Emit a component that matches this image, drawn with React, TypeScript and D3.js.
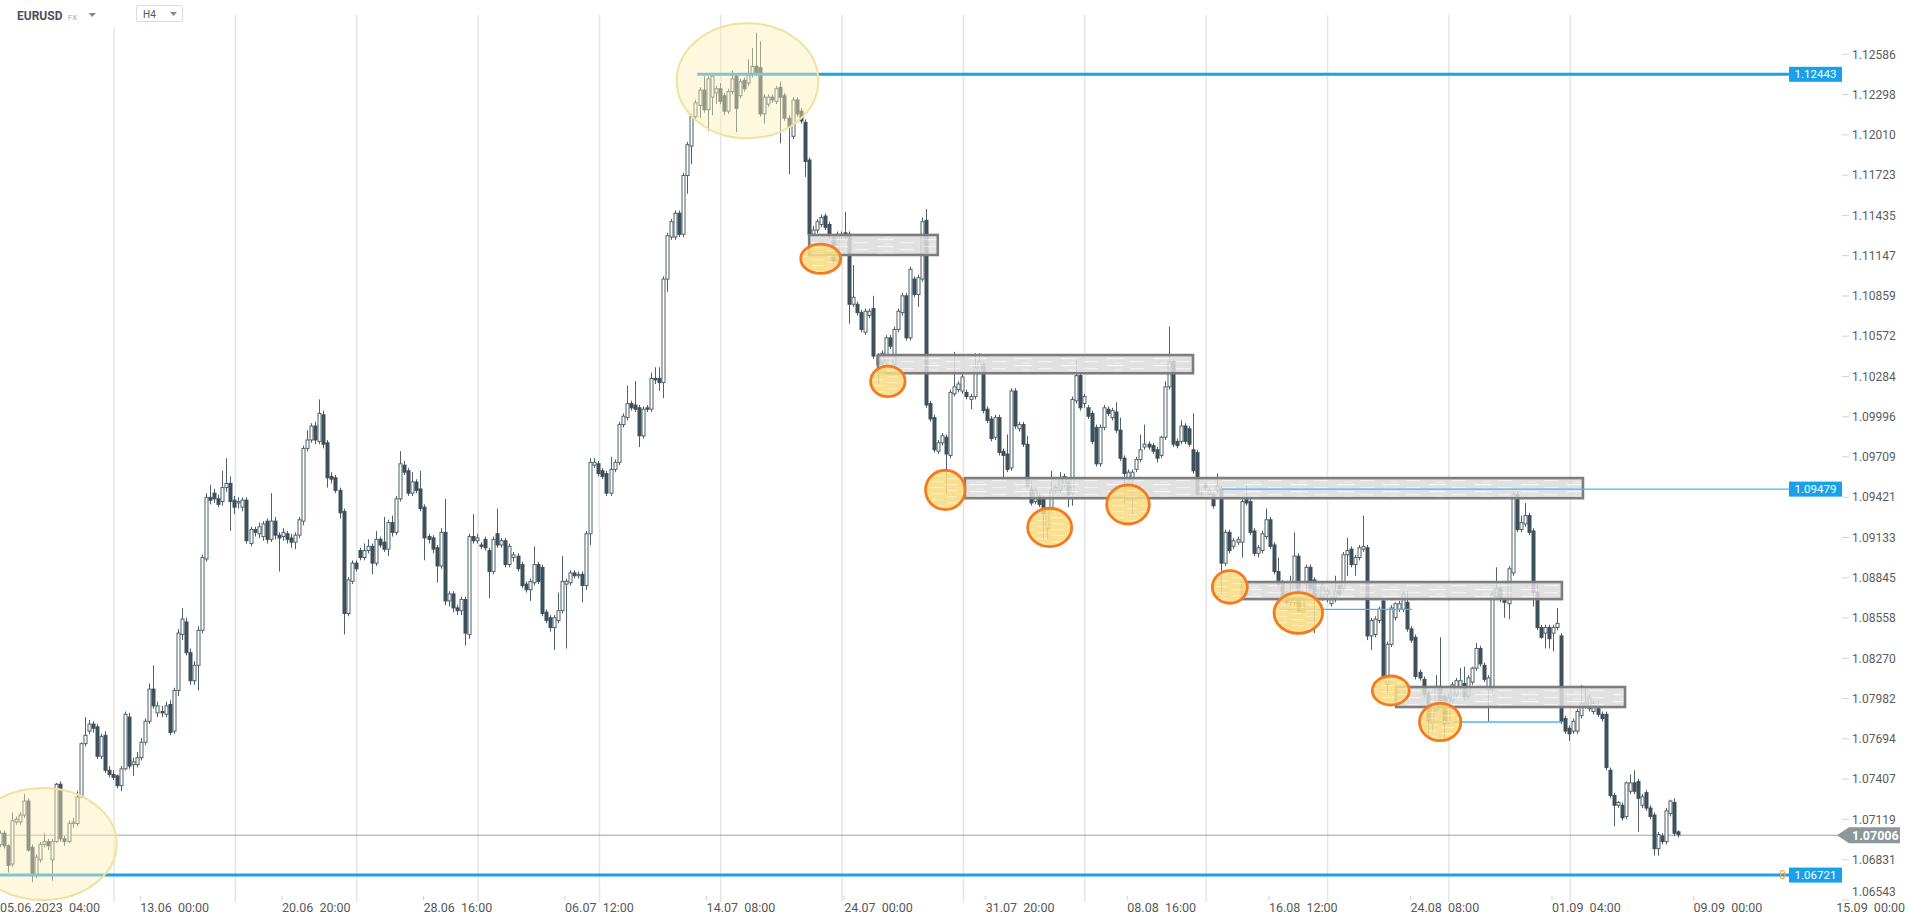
import React, { useEffect } from 'react';
import * as d3 from 'd3';

type Bar = [number, number, number, number]; // open, high, low, close

// H4 candles, one array per trading week (Mon 00:00 .. Fri 20:00)
const wk0605: Bar[] = [
  [1.0704,1.0706,1.0696,1.0699],[1.0694,1.0704,1.0692,1.0702],[1.0702,1.0704,1.0691,1.0693],[1.0693,1.0694,1.0674,1.0679],
  [1.0680,1.0717,1.0678,1.0711],[1.0710,1.0714,1.0708,1.0712],[1.0710,1.0717,1.0708,1.0715],[1.0715,1.0730,1.0713,1.0725],
  [1.0725,1.0727,1.0689,1.0690],[1.0692,1.0694,1.0667,1.0672],[1.0672,1.0687,1.0670,1.0685],[1.0683,1.0696,1.0681,1.0694],
  [1.0694,1.0702,1.0692,1.0696],[1.0696,1.0698,1.0690,1.0693],[1.0683,1.0698,1.0668,1.0696],[1.0696,1.0738,1.0695,1.0737],
  [1.0737,1.0739,1.0696,1.0698],[1.0698,1.0700,1.0693,1.0696],[1.0696,1.0711,1.0695,1.0709],[1.0709,1.0713,1.0706,1.0710],
  [1.0709,1.0732,1.0707,1.0728],[1.0728,1.0767,1.0727,1.0766],[1.0766,1.0785,1.0764,1.0772],[1.0775,1.0783,1.0773,1.0780],
  [1.0780,1.0782,1.0774,1.0777],[1.0778,1.0780,1.0755,1.0757],[1.0757,1.0773,1.0755,1.0771],[1.0772,1.0775,1.0745,1.0747],
  [1.0747,1.0750,1.0742,1.0744],[1.0744,1.0747,1.0740,1.0742],
];
const wk0612: Bar[] = [
  [1.0743,1.0744,1.0734,1.0736],[1.0736,1.0750,1.0732,1.0748],[1.0748,1.0789,1.0747,1.0787],[1.0785,1.0788,1.0748,1.0750],
  [1.0751,1.0756,1.0743,1.0753],[1.0751,1.0760,1.0749,1.0756],[1.0756,1.0770,1.0754,1.0767],[1.0767,1.0784,1.0765,1.0782],
  [1.0782,1.0809,1.0780,1.0805],[1.0805,1.0822,1.0791,1.0793],[1.0788,1.0796,1.0785,1.0793],[1.0789,1.0793,1.0785,1.0788],
  [1.0787,1.0796,1.0785,1.0793],[1.0794,1.0797,1.0772,1.0774],[1.0775,1.0806,1.0773,1.0804],[1.0804,1.0848,1.0800,1.0845],
  [1.0844,1.0863,1.0840,1.0855],[1.0853,1.0856,1.0829,1.0831],[1.0831,1.0834,1.0808,1.0811],[1.0811,1.0825,1.0808,1.0822],
  [1.0822,1.0850,1.0804,1.0847],[1.0847,1.0901,1.0845,1.0899],[1.0898,1.0945,1.0896,1.0942],[1.0942,1.0951,1.0937,1.0940],
  [1.0945,1.0948,1.0938,1.0941],[1.0941,1.0944,1.0935,1.0937],[1.0939,1.0961,1.0936,1.0949],[1.0949,1.0970,1.0946,1.0952],
  [1.0952,1.0957,1.0918,1.0939],[1.0940,1.0943,1.0930,1.0935],
];
const wk0619: Bar[] = [
  [1.0938,1.0942,1.0934,1.0939],[1.0935,1.0942,1.0932,1.0940],[1.0940,1.0942,1.0909,1.0911],[1.0909,1.0921,1.0907,1.0919],
  [1.0919,1.0921,1.0914,1.0917],[1.0916,1.0924,1.0913,1.0921],[1.0914,1.0925,1.0911,1.0923],[1.0925,1.0927,1.0909,1.0912],
  [1.0912,1.0945,1.0910,1.0925],[1.0925,1.0928,1.0912,1.0915],[1.0915,1.0917,1.0889,1.0913],[1.0914,1.0920,1.0911,1.0917],
  [1.0916,1.0918,1.0909,1.0912],[1.0913,1.0916,1.0906,1.0910],[1.0910,1.0917,1.0905,1.0915],[1.0915,1.0928,1.0913,1.0926],
  [1.0925,1.0979,1.0922,1.0977],[1.0977,1.0990,1.0975,1.0983],[1.0983,1.0995,1.0981,1.0993],[1.0993,1.0996,1.0980,1.0983],
  [1.0982,1.1012,1.0980,1.1002],[1.1001,1.1004,1.0977,1.0980],[1.0981,1.0983,1.0949,1.0956],[1.0957,1.0960,1.0952,1.0955],
  [1.0956,1.0958,1.0945,1.0947],[1.0947,1.0949,1.0927,1.0931],[1.0932,1.0934,1.0844,1.0859],[1.0859,1.0885,1.0857,1.0883],
  [1.0882,1.0897,1.0880,1.0895],[1.0895,1.0897,1.0889,1.0891],
];
const wk0626: Bar[] = [
  [1.0904,1.0906,1.0897,1.0899],[1.0899,1.0909,1.0897,1.0904],[1.0904,1.0912,1.0902,1.0907],[1.0907,1.0909,1.0887,1.0895],
  [1.0895,1.0918,1.0893,1.0912],[1.0912,1.0914,1.0906,1.0908],[1.0910,1.0928,1.0903,1.0905],[1.0905,1.0926,1.0900,1.0924],
  [1.0924,1.0929,1.0914,1.0917],[1.0917,1.0943,1.0915,1.0941],[1.0941,1.0975,1.0939,1.0966],[1.0965,1.0968,1.0958,1.0960],
  [1.0961,1.0963,1.0943,1.0945],[1.0945,1.0960,1.0943,1.0953],[1.0953,1.0955,1.0945,1.0947],[1.0948,1.0961,1.0932,1.0934],
  [1.0935,1.0937,1.0897,1.0913],[1.0914,1.0916,1.0909,1.0912],[1.0913,1.0915,1.0902,1.0905],[1.0906,1.0908,1.0881,1.0893],
  [1.0893,1.0920,1.0891,1.0917],[1.0917,1.0941,1.0865,1.0868],[1.0868,1.0875,1.0864,1.0873],[1.0873,1.0875,1.0860,1.0863],
  [1.0863,1.0865,1.0858,1.0861],[1.0861,1.0871,1.0858,1.0869],[1.0869,1.0871,1.0836,1.0845],[1.0844,1.0916,1.0841,1.0914],
  [1.0914,1.0930,1.0909,1.0911],[1.0911,1.0916,1.0909,1.0913],
];
const wk0703: Bar[] = [
  [1.0908,1.0910,1.0905,1.0907],[1.0912,1.0914,1.0904,1.0906],[1.0904,1.0906,1.0870,1.0889],[1.0889,1.0914,1.0887,1.0912],
  [1.0916,1.0934,1.0906,1.0908],[1.0908,1.0913,1.0906,1.0911],[1.0911,1.0913,1.0892,1.0894],[1.0894,1.0909,1.0892,1.0907],
  [1.0899,1.0903,1.0896,1.0901],[1.0900,1.0902,1.0889,1.0891],[1.0894,1.0896,1.0877,1.0879],[1.0880,1.0882,1.0874,1.0876],
  [1.0876,1.0884,1.0868,1.0882],[1.0881,1.0907,1.0879,1.0894],[1.0894,1.0896,1.0880,1.0882],[1.0892,1.0894,1.0857,1.0859],
  [1.0860,1.0862,1.0852,1.0854],[1.0856,1.0858,1.0846,1.0849],[1.0849,1.0858,1.0833,1.0856],[1.0854,1.0874,1.0852,1.0861],
  [1.0861,1.0900,1.0859,1.0882],[1.0880,1.0884,1.0834,1.0882],[1.0881,1.0890,1.0879,1.0888],[1.0888,1.0890,1.0884,1.0886],
  [1.0886,1.0889,1.0884,1.0887],[1.0887,1.0889,1.0867,1.0879],[1.0879,1.0918,1.0876,1.0916],[1.0916,1.0970,1.0908,1.0967],
  [1.0965,1.0970,1.0963,1.0967],[1.0966,1.0968,1.0957,1.0959],
];
const wk0710: Bar[] = [
  [1.0961,1.0963,1.0955,1.0957],[1.0959,1.0961,1.0943,1.0945],[1.0945,1.0971,1.0943,1.0962],[1.0962,1.0969,1.0960,1.0967],
  [1.0967,1.0996,1.0965,1.0994],[1.0994,1.1002,1.0992,1.1000],[1.0999,1.1022,1.0997,1.1009],[1.1009,1.1011,1.1004,1.1006],
  [1.1008,1.1025,1.1003,1.1005],[1.1006,1.1008,1.0978,1.0986],[1.0986,1.1007,1.0984,1.1005],[1.1006,1.1008,1.1003,1.1005],
  [1.1005,1.1031,1.1003,1.1027],[1.1027,1.1035,1.1023,1.1026],[1.1027,1.1035,1.1018,1.1024],[1.1024,1.1100,1.1013,1.1098],
  [1.1098,1.1131,1.1089,1.1129],[1.1128,1.1141,1.1126,1.1139],[1.1128,1.1147,1.1126,1.1145],[1.1145,1.1147,1.1128,1.1130],
  [1.1130,1.1174,1.1128,1.1172],[1.1172,1.1196,1.1159,1.1194],[1.1193,1.1216,1.1180,1.1214],[1.1214,1.1226,1.1212,1.1224],
  [1.1222,1.1235,1.1213,1.1233],[1.1233,1.1243,1.1217,1.1219],[1.1219,1.1243,1.1204,1.1241],[1.1228,1.1245,1.1215,1.1243],
  [1.1231,1.1236,1.1223,1.1234],[1.1234,1.1238,1.1223,1.1225],
];
const wk0717: Bar[] = [
  [1.1229,1.1231,1.1215,1.1218],[1.1218,1.1234,1.1216,1.1232],[1.1232,1.1247,1.1230,1.1241],[1.1243,1.1245,1.1203,1.1220],
  [1.1229,1.1241,1.1227,1.1239],[1.1240,1.1242,1.1232,1.1234],[1.1238,1.1255,1.1236,1.1244],[1.1244,1.1263,1.1242,1.1250],
  [1.1250,1.1274,1.1243,1.1245],[1.1249,1.1268,1.1214,1.1216],[1.1216,1.1230,1.1209,1.1228],[1.1223,1.1230,1.1221,1.1228],
  [1.1228,1.1230,1.1224,1.1226],[1.1225,1.1236,1.1223,1.1234],[1.1235,1.1239,1.1195,1.1228],[1.1229,1.1231,1.1211,1.1213],
  [1.1213,1.1215,1.1173,1.1207],[1.1200,1.1228,1.1198,1.1226],[1.1226,1.1228,1.1214,1.1216],[1.1218,1.1220,1.1209,1.1211],
  [1.1210,1.1212,1.1171,1.1182],[1.1183,1.1185,1.1128,1.1130],[1.1130,1.1136,1.1128,1.1133],[1.1133,1.1141,1.1131,1.1139],
  [1.1137,1.1144,1.1135,1.1142],[1.1143,1.1145,1.1133,1.1135],[1.1137,1.1139,1.1127,1.1129],[1.1128,1.1130,1.1109,1.1111],
  [1.1111,1.1132,1.1109,1.1130],[1.1128,1.1132,1.1126,1.1130],
];
const wk0724: Bar[] = [
  [1.1131,1.1146,1.1126,1.1128],[1.1130,1.1132,1.1066,1.1080],[1.1080,1.1108,1.1078,1.1085],[1.1080,1.1082,1.1072,1.1074],
  [1.1074,1.1076,1.1060,1.1062],[1.1060,1.1077,1.1058,1.1075],[1.1072,1.1077,1.1070,1.1075],[1.1077,1.1086,1.1041,1.1043],
  [1.1043,1.1045,1.1023,1.1037],[1.1038,1.1047,1.1036,1.1045],[1.1038,1.1058,1.1036,1.1056],[1.1056,1.1058,1.1048,1.1050],
  [1.1037,1.1064,1.1035,1.1062],[1.1062,1.1077,1.1060,1.1075],[1.1074,1.1088,1.1072,1.1086],[1.1086,1.1088,1.1054,1.1056],
  [1.1056,1.1107,1.1054,1.1105],[1.1098,1.1100,1.1085,1.1087],[1.1087,1.1101,1.1078,1.1099],[1.1098,1.1142,1.1096,1.1139],
  [1.1140,1.1148,1.1006,1.1008],[1.1009,1.1011,1.0996,1.0998],[1.0999,1.1001,1.0974,1.0976],[1.0975,1.0983,1.0973,1.0981],
  [1.0981,1.0988,1.0979,1.0986],[1.0985,1.0987,1.0944,1.0973],[1.0972,1.1019,1.0970,1.1017],[1.1016,1.1046,1.1014,1.1021],
  [1.1019,1.1025,1.1017,1.1023],[1.1018,1.1030,1.1016,1.1028],
];
const wk0731: Bar[] = [
  [1.1017,1.1019,1.1012,1.1014],[1.1012,1.1016,1.1005,1.1014],[1.1014,1.1045,1.1012,1.1035],[1.1033,1.1045,1.1031,1.1039],
  [1.1037,1.1039,1.1002,1.1004],[1.1005,1.1007,1.0995,1.0997],[1.0998,1.1000,1.0982,1.0984],[1.0985,1.1001,1.0983,1.0999],
  [1.0999,1.1001,1.0972,1.0974],[1.0975,1.0977,1.0954,1.0972],[1.0973,1.0987,1.0960,1.0962],[1.0963,1.1020,1.0961,1.1018],
  [1.1018,1.1020,1.0991,1.0993],[1.0991,1.0996,1.0989,1.0994],[1.0994,1.0996,1.0978,1.0980],[1.0980,1.0986,1.0948,1.0950],
  [1.0948,1.0954,1.0936,1.0938],[1.0939,1.0949,1.0937,1.0947],[1.0943,1.0945,1.0935,1.0937],[1.0941,1.0943,1.0912,1.0930],
  [1.0920,1.0935,1.0912,1.0933],[1.0933,1.0961,1.0931,1.0947],[1.0947,1.0951,1.0945,1.0949],[1.0947,1.0960,1.0945,1.0956],
  [1.0951,1.0959,1.0949,1.0957],[1.0953,1.0955,1.0935,1.0944],[1.0945,1.1014,1.0936,1.1012],[1.1011,1.1041,1.1009,1.1029],
  [1.1029,1.1031,1.1004,1.1006],[1.1009,1.1016,1.1006,1.1014],
];
const wk0807: Bar[] = [
  [1.1006,1.1008,1.0998,1.1000],[1.1002,1.1004,1.0980,1.0982],[1.0992,1.0994,1.0964,1.0966],[1.0966,1.0994,1.0964,1.0992],
  [1.0992,1.1008,1.0990,1.1006],[1.1005,1.1007,1.1000,1.1002],[1.0999,1.1006,1.0997,1.1004],[1.1003,1.1010,1.0988,1.0990],
  [1.0990,1.0999,1.0968,1.0970],[1.0970,1.0972,1.0938,1.0959],[1.0956,1.0962,1.0954,1.0960],[1.0954,1.0962,1.0930,1.0960],
  [1.0962,1.0971,1.0960,1.0969],[1.0969,1.0987,1.0967,1.0976],[1.0978,1.0994,1.0976,1.0980],[1.0980,1.0982,1.0976,1.0978],
  [1.0979,1.0981,1.0973,1.0975],[1.0976,1.0978,1.0967,1.0970],[1.0972,1.0986,1.0970,1.0985],[1.0985,1.1025,1.0983,1.1021],
  [1.1021,1.1064,1.1019,1.1039],[1.1039,1.1041,1.0978,1.0980],[1.0982,1.0984,1.0977,1.0979],[1.0982,1.0997,1.0980,1.0993],
  [1.0993,1.0995,1.0980,1.0982],[1.0991,1.0993,1.0978,1.0980],[1.0976,1.1002,1.0959,1.0961],[1.0974,1.0976,1.0942,1.0944],
  [1.0944,1.0947,1.0942,1.0945],[1.0951,1.0953,1.0947,1.0949],
];
const wk0814: Bar[] = [
  [1.0944,1.0949,1.0942,1.0947],[1.0944,1.0946,1.0934,1.0936],[1.0947,1.0959,1.0945,1.0950],[1.0948,1.0950,1.0873,1.0895],
  [1.0895,1.0919,1.0893,1.0917],[1.0917,1.0919,1.0902,1.0904],[1.0907,1.0913,1.0905,1.0911],[1.0910,1.0914,1.0908,1.0912],
  [1.0910,1.0941,1.0899,1.0939],[1.0941,1.0951,1.0936,1.0938],[1.0939,1.0941,1.0915,1.0917],[1.0918,1.0920,1.0900,1.0902],
  [1.0902,1.0908,1.0899,1.0906],[1.0904,1.0918,1.0902,1.0916],[1.0914,1.0934,1.0912,1.0926],[1.0926,1.0928,1.0905,1.0907],
  [1.0908,1.0910,1.0887,1.0889],[1.0889,1.0899,1.0878,1.0880],[1.0881,1.0883,1.0869,1.0871],[1.0873,1.0875,1.0865,1.0867],
  [1.0867,1.0886,1.0865,1.0869],[1.0867,1.0917,1.0865,1.0900],[1.0900,1.0902,1.0860,1.0861],[1.0860,1.0876,1.0858,1.0874],
  [1.0880,1.0894,1.0873,1.0892],[1.0892,1.0894,1.0875,1.0877],[1.0883,1.0885,1.0845,1.0871],[1.0870,1.0876,1.0868,1.0874],
  [1.0870,1.0881,1.0868,1.0879],[1.0873,1.0877,1.0867,1.0875],
];
const wk0821: Bar[] = [
  [1.0866,1.0871,1.0864,1.0869],[1.0869,1.0886,1.0867,1.0875],[1.0879,1.0881,1.0871,1.0873],[1.0877,1.0903,1.0875,1.0901],
  [1.0901,1.0913,1.0886,1.0904],[1.0905,1.0907,1.0892,1.0894],[1.0894,1.0901,1.0886,1.0899],[1.0899,1.0908,1.0897,1.0906],
  [1.0905,1.0929,1.0903,1.0907],[1.0906,1.0908,1.0840,1.0843],[1.0843,1.0856,1.0833,1.0854],[1.0844,1.0857,1.0842,1.0855],
  [1.0854,1.0864,1.0852,1.0862],[1.0868,1.0869,1.0811,1.0813],[1.0808,1.0839,1.0802,1.0837],[1.0837,1.0865,1.0835,1.0863],
  [1.0856,1.0867,1.0854,1.0866],[1.0862,1.0868,1.0860,1.0866],[1.0862,1.0875,1.0860,1.0873],[1.0867,1.0875,1.0846,1.0848],
  [1.0848,1.0850,1.0838,1.0840],[1.0842,1.0844,1.0812,1.0814],[1.0817,1.0819,1.0811,1.0813],[1.0812,1.0814,1.0799,1.0801],
  [1.0802,1.0804,1.0772,1.0782],[1.0780,1.0794,1.0775,1.0792],[1.0790,1.0815,1.0788,1.0807],[1.0807,1.0842,1.0794,1.0796],
  [1.0800,1.0802,1.0770,1.0780],[1.0782,1.0802,1.0780,1.0799],
];
const wk0828: Bar[] = [
  [1.0797,1.0810,1.0795,1.0808],[1.0801,1.0813,1.0799,1.0811],[1.0806,1.0820,1.0804,1.0811],[1.0809,1.0821,1.0797,1.0799],
  [1.0800,1.0815,1.0798,1.0813],[1.0810,1.0821,1.0808,1.0820],[1.0820,1.0838,1.0818,1.0834],[1.0834,1.0836,1.0821,1.0823],
  [1.0822,1.0824,1.0810,1.0812],[1.0805,1.0815,1.0782,1.0813],[1.0805,1.0875,1.0803,1.0873],[1.0871,1.0892,1.0869,1.0877],
  [1.0877,1.0879,1.0867,1.0869],[1.0869,1.0871,1.0856,1.0867],[1.0866,1.0893,1.0855,1.0891],[1.0888,1.0946,1.0886,1.0944],
  [1.0944,1.0946,1.0917,1.0919],[1.0919,1.0929,1.0917,1.0924],[1.0923,1.0938,1.0921,1.0929],[1.0929,1.0931,1.0915,1.0917],
  [1.0918,1.0920,1.0864,1.0874],[1.0874,1.0880,1.0847,1.0849],[1.0849,1.0851,1.0841,1.0842],[1.0845,1.0851,1.0834,1.0849],
  [1.0849,1.0851,1.0834,1.0841],[1.0845,1.0851,1.0832,1.0849],[1.0849,1.0863,1.0847,1.0852],[1.0843,1.0845,1.0780,1.0782],
  [1.0784,1.0786,1.0773,1.0775],[1.0777,1.0779,1.0768,1.0773],
];
const wk0904: Bar[] = [
  [1.0775,1.0784,1.0773,1.0782],[1.0775,1.0791,1.0773,1.0789],[1.0786,1.0808,1.0784,1.0795],[1.0793,1.0807,1.0791,1.0795],
  [1.0791,1.0801,1.0789,1.0799],[1.0789,1.0797,1.0787,1.0795],[1.0791,1.0797,1.0785,1.0787],[1.0787,1.0789,1.0782,1.0784],
  [1.0787,1.0789,1.0747,1.0749],[1.0747,1.0749,1.0727,1.0729],[1.0729,1.0731,1.0707,1.0722],[1.0722,1.0725,1.0720,1.0724],
  [1.0722,1.0724,1.0711,1.0713],[1.0714,1.0739,1.0712,1.0738],[1.0732,1.0744,1.0730,1.0738],[1.0738,1.0747,1.0730,1.0732],
  [1.0739,1.0741,1.0703,1.0727],[1.0722,1.0730,1.0720,1.0728],[1.0731,1.0733,1.0718,1.0720],[1.0720,1.0722,1.0712,1.0714],
  [1.0715,1.0717,1.0686,1.0691],[1.0691,1.0703,1.0686,1.0701],[1.0700,1.0702,1.0694,1.0696],[1.0696,1.0720,1.0694,1.0718],
  [1.0716,1.0726,1.0714,1.0725],[1.0724,1.0727,1.0700,1.0702],[1.0703,1.0704,1.0699,1.0701],
];

const weeks: Bar[][] = [wk0605, wk0612, wk0619, wk0626, wk0703, wk0710, wk0717, wk0724, wk0731, wk0807, wk0814, wk0821, wk0828, wk0904];

// Price axis tick labels
const yTicks = [1.12586, 1.12298, 1.1201, 1.11723, 1.11435, 1.11147, 1.10859, 1.10572, 1.10284, 1.09996, 1.09709,
  1.09421, 1.09133, 1.08845, 1.08558, 1.0827, 1.07982, 1.07694, 1.07407, 1.07119, 1.06831, 1.06543];

// Time axis labels (bar index -> text)
const xLabelIdx = [1, 36, 71, 106, 141, 176, 210, 245, 280, 315, 350, 385, 420];
const xLabelTxt = ['05.06.2023  04:00', '13.06  00:00', '20.06  20:00', '28.06  16:00', '06.07  12:00', '14.07  08:00',
  '24.07  00:00', '31.07  20:00', '08.08  16:00', '16.08  12:00', '24.08  08:00', '01.09  04:00', '09.09  00:00'];

// Horizontal levels (price, from bar index, to bar index or null = to axis)
const levelPrice = [1.12443, 1.06721, 1.09479, 1.08619, 1.07815];
const levelFrom = [173.45, -3, 303.2, 317.5, 354.6];
const levelTo: (number | null)[] = [null, null, null, 350.1, 387.2];
const levelThick = [true, true, false, false, false];
const levelLabel = [true, true, true, false, false];
const lastPrice = 1.07006;

// Consolidation zones: [fromIdx, toIdx, topPrice, bottomPrice]
const zones: [number, number, number, number][] = [
  [201.1, 232.9, 1.11295, 1.11152],
  [218.1, 296.0, 1.10437, 1.10307],
  [239.6, 392.4, 1.09558, 1.09414],
  [308.1, 387.2, 1.08815, 1.08693],
  [346.2, 402.8, 1.08065, 1.07922],
];
// Touch markers: [barIdx, price]
const touches: [number, number][] = [
  [203.96, 1.11125], [220.55, 1.10249], [234.76, 1.09473], [260.57, 1.09205], [279.93, 1.09369],
  [305.1, 1.0878], [322.03, 1.08594], [344.9, 1.0804], [357.1, 1.07815],
];
const touchR: [number, number][] = [[20, 14.7], [17.2, 15.3], [19.7, 19.7], [22, 19.2], [21.3, 19.5], [17.5, 16.3], [24.3, 20.3], [18.5, 14.5], [20.7, 18.7]];
// Highlighted extremes: [barIdx, price]
const extremes: [number, number][] = [[185.86, 1.12397], [11.69, 1.06943]];
const extremeR: [number, number][] = [[70.8, 57.5], [73.7, 56]];

const FONT = 'Roboto, "Open Sans", Arial, sans-serif';
const DARK = '#3e505b';
const WICK = '#4f616b';
const BLUE = '#1ea0e6';

export default function App() {
  useEffect(() => {
    document.body.style.margin = '0';
    document.body.style.overflow = 'hidden';
  }, []);

  const W = 1910, H = 921;
  const candles = weeks.flat();
  const weekStarts: number[] = [];
  let acc = 0;
  weeks.forEach((w, k) => { if (k > 0) weekStarts.push(acc); acc += w.length; });

  const x = d3.scaleLinear().domain([0, 420]).range([-4.3, -4.3 + 4.045 * 420]);
  const y = d3.scaleLinear().domain([1.06543, 1.12586]).range([900, 54.3]);
  const axisX = 1842;
  const labelBoxX = 1789;

  return (
    <svg width={W} height={H} style={{ position: 'absolute', left: 0, top: 0, background: '#fff' }} fontFamily={FONT}>
      <defs>
        <pattern id="zoneTex" width="46" height="7" patternUnits="userSpaceOnUse">
          <rect width="46" height="7" fill="#dcdcdc" />
          <rect x="3" y="1" width="17" height="1.2" fill="#f4f4f4" />
          <rect x="26" y="4" width="14" height="1.2" fill="#f0f0f0" />
          <rect x="10" y="5.5" width="8" height="1" fill="#ececec" />
        </pattern>
        <pattern id="touchTex" width="30" height="6" patternUnits="userSpaceOnUse">
          <rect width="30" height="6" fill="#f8da7e" />
          <rect x="2" y="1" width="12" height="1.2" fill="#fcecb8" />
          <rect x="17" y="4" width="10" height="1.2" fill="#fbe9b0" />
        </pattern>
        <clipPath id="plotClip"><rect x="0" y="0" width={axisX} height={902} /></clipPath>
      </defs>

      {/* week grid */}
      {weekStarts.map((i) => (
        <line key={'g' + i} x1={x(i) - 3} x2={x(i) - 3} y1={15} y2={902} stroke="#e5e5e5" strokeWidth={1.5} />
      ))}

      {/* header */}
      <rect x={0} y={0} width={128} height={27} fill="#fff" />
      <text x={17} y={20} fontSize={12} fontWeight={700} fill="#4b5157">EURUSD</text>
      <text x={68} y={19.5} fontSize={7.5} fill="#a0a0a0">FX</text>
      <polygon points="88.5,13 96,13 92.25,17" fill="#8a8a8a" />
      <rect x={136.5} y={5.5} width={46} height={16} fill="#fff" stroke="#dcdcdc" rx={1.5} />
      <text x={143} y={17.5} fontSize={10} fill="#555">H4</text>
      <polygon points="170,12 177,12 173.5,16" fill="#8a8a8a" />

      <g clipPath="url(#plotClip)">
        {/* current price line */}
        <line x1={0} x2={1838} y1={y(lastPrice)} y2={y(lastPrice)} stroke="#98a2a7" strokeWidth={1} />

        {/* candles */}
        {candles.map((c, i) => {
          const [o, h, l, cl] = c;
          const cx = Math.round(x(i)) + 0.5;
          const up = cl >= o;
          const top = y(Math.max(o, cl));
          const bot = y(Math.min(o, cl));
          const bh = Math.max(1, bot - top);
          return (
            <g key={'c' + i}>
              <line x1={cx} x2={cx} y1={y(h)} y2={y(l)} stroke={WICK} strokeWidth={1} />
              <rect x={cx - 1.5} y={top} width={3} height={bh} fill={up ? '#ffffff' : DARK} stroke={up ? WICK : DARK} strokeWidth={1} />
            </g>
          );
        })}

        {/* zones */}
        {zones.map(([a, b, pt, pb], k) => (
          <rect key={'z' + k} x={x(a)} y={y(pt)} width={x(b) - x(a)} height={y(pb) - y(pt)}
            fill="url(#zoneTex)" fillOpacity={0.86} stroke="#7d7d7d" strokeWidth={2.6} />
        ))}

        {/* levels */}
        {levelPrice.map((p, k) => {
          const x1 = Math.max(0, x(levelFrom[k]));
          const to = levelTo[k];
          const x2 = to === null ? labelBoxX : x(to);
          return (
            <line key={'l' + k} x1={x1} x2={x2} y1={y(p)} y2={y(p)}
              stroke={levelThick[k] ? BLUE : '#4cb6ef'} strokeWidth={levelThick[k] ? 3 : 1.3} />
          );
        })}

        {/* touch markers */}
        {touches.map(([i, p], k) => (
          <ellipse key={'t' + k} cx={x(i)} cy={y(p)} rx={touchR[k][0]} ry={touchR[k][1]}
            fill="url(#touchTex)" fillOpacity={0.86} stroke="#f47a20" strokeWidth={2.8} />
        ))}

        {/* extremes */}
        {extremes.map(([i, p], k) => (
          <ellipse key={'e' + k} cx={x(i)} cy={y(p)} rx={extremeR[k][0]} ry={extremeR[k][1]}
            fill="#fbefb6" fillOpacity={0.45} stroke="#f3e09c" strokeWidth={2} />
        ))}
      </g>

      {/* x axis ticks and labels */}
      {xLabelIdx.map((i, k) => {
        const tx = x(i) - 1;
        return (
          <g key={'xl' + k}>
            <line x1={tx} x2={tx} y1={896} y2={900} stroke="#d0d0d0" />
            <text x={Math.max(0, tx)} y={912} fontSize={12.5} fill="#585858" style={{ whiteSpace: 'pre' }}>{xLabelTxt[k]}</text>
          </g>
        );
      })}
      <text x={1905} y={912} fontSize={12.5} fill="#585858" textAnchor="end" style={{ whiteSpace: 'pre' }}>15.09  00:00</text>

      {/* y axis */}
      {yTicks.map((t, k) => {
        const ty = Math.min(y(t), 892);
        return (
          <g key={'yt' + k}>
            <line x1={axisX} x2={axisX + 7} y1={y(t)} y2={y(t)} stroke="#d2d2d2" />
            <text x={1852} y={ty} dy="0.35em" fontSize={12} fill="#5c5c5c">{t.toFixed(5)}</text>
          </g>
        );
      })}

      {/* level labels */}
      <text x={1779} y={y(1.06721)} dy="0.35em" fontSize={12} fill="#f5a623">0</text>
      {levelPrice.map((p, k) => levelLabel[k] ? (
        <g key={'ll' + k}>
          <rect x={labelBoxX} y={y(p) - 7.5} width={53} height={15} fill="#18a0e8" />
          <text x={labelBoxX + 26.5} y={y(p)} dy="0.35em" fontSize={11.5} fill="#fff" textAnchor="middle">{p.toFixed(5)}</text>
        </g>
      ) : null)}

      {/* last price label */}
      <polygon
        points={`1837,${y(lastPrice)} 1849,${y(lastPrice) - 8} 1900,${y(lastPrice) - 8} 1900,${y(lastPrice) + 8} 1849,${y(lastPrice) + 8}`}
        fill="#8c979c" />
      <text x={1852} y={y(lastPrice)} dy="0.35em" fontSize={12.5} fontWeight={700} fill="#fff">{lastPrice.toFixed(5)}</text>
    </svg>
  );
}
